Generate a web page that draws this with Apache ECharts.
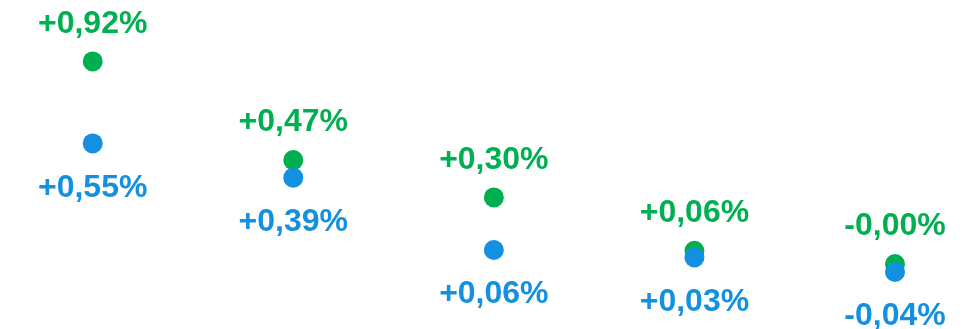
<!DOCTYPE html>
<html>
<head>
<meta charset="utf-8">
<script src="https://cdn.jsdelivr.net/npm/echarts@6/dist/echarts.min.js"></script>
<style>
  html, body { margin: 0; padding: 0; background: #ffffff; }
  #chart { width: 978px; height: 329px; }
</style>
</head>
<body>
<div id="chart"></div>
<script>
// Five groups, two measures each (percentage change)
const categories = ['A', 'B', 'C', 'D', 'E'];
const greenValues = [0.92, 0.47, 0.30, 0.057, -0.004];
const blueValues = [0.546, 0.39, 0.06, 0.026, -0.04];

const GREEN = '#00B050';
const BLUE = '#1490E0';

function fmt(v) {
  const s = v.toFixed(2).replace('.', ',');
  return (v >= 0 ? '+' : '') + s + '%';
}

const labelBase = {
  show: true,
  fontFamily: '"Liberation Sans", Arial, sans-serif',
  fontWeight: 'bold',
  fontSize: 32,
  formatter: p => fmt(p.value)
};

const chart = echarts.init(document.getElementById('chart'), null, { renderer: 'canvas' });
chart.setOption({
  animation: false,
  backgroundColor: '#ffffff',
  grid: { left: 92.7, right: 83, top: -0.4, height: 333, containLabel: false },
  xAxis: {
    type: 'category',
    data: categories,
    boundaryGap: false,
    show: false
  },
  yAxis: {
    type: 'value',
    min: -0.3,
    max: 1.2,
    show: false,
    splitLine: { show: false }
  },
  series: [
    {
      name: 'green',
      type: 'scatter',
      data: greenValues,
      symbol: 'circle',
      symbolSize: 20,
      itemStyle: { color: GREEN, opacity: 1 },
      label: Object.assign({}, labelBase, { position: 'top', distance: 11.5, color: GREEN })
    },
    {
      name: 'blue',
      type: 'scatter',
      data: blueValues,
      symbol: 'circle',
      symbolSize: 20,
      itemStyle: { color: BLUE, opacity: 1 },
      label: Object.assign({}, labelBase, { position: 'bottom', distance: 18.5, color: BLUE })
    }
  ]
});
</script>
</body>
</html>
